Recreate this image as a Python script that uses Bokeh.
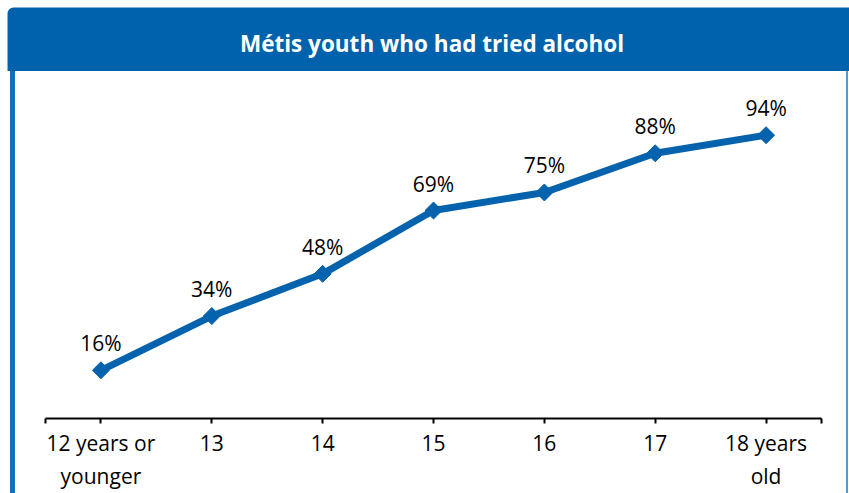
import math
from bokeh.plotting import figure
from bokeh.models import Range1d, FixedTicker, Label, ColumnDataSource, Spacer
from bokeh.layouts import column, row
from bokeh.embed import file_html
from bokeh.resources import INLINE
from bokeh.core.properties import value

# ---- data ----
categories = ["12 years or\nyounger", "13", "14", "15", "16", "17", "18 years\nold"]
percentages = [16, 34, 48, 69, 75, 88, 94]
title_text = "Métis youth who had tried alcohol"

HEADER_BLUE = "#0062AD"
LINE_BLUE = "#0563AE"
BORDER_BLUE = "#1770BC"
RIGHT_BORDER = "#5A96CF"
FONT = "Open Sans"

xs = list(range(len(categories)))
labels = [f"{v}%" for v in percentages]

# ---- header ----
header = figure(width=849, height=71, x_range=Range1d(0, 849), y_range=Range1d(0, 71),
                min_border=0, toolbar_location=None, output_backend="svg",
                x_axis_location=None, y_axis_location=None,
                background_fill_color="white", border_fill_color="white",
                outline_line_color=None)
header.grid.visible = False
header.quad(left=[7], right=[870], bottom=[0], top=[64], fill_color=HEADER_BLUE,
            line_color=None, border_radius=(6, 0, 0, 0))
header.add_layout(Label(x=431.5, y=28, text=title_text, text_color="white",
                        text_font=FONT, text_font_style="bold", text_font_size="22.5px",
                        text_align="center", text_baseline="alphabetic"))

# ---- side borders ----
pad_left = Spacer(width=10, height=422)
left_border = Spacer(width=5, height=422, styles={"background-color": BORDER_BLUE})
right_border = Spacer(width=2, height=422, styles={"background-color": RIGHT_BORDER})

# ---- main chart ----
p = figure(width=831, height=422, x_range=Range1d(-0.5, 6.5), y_range=Range1d(0, 109.5),
           min_border_left=30, min_border_right=25, min_border_top=17, min_border_bottom=75,
           toolbar_location=None, output_backend="svg", y_axis_location=None,
           background_fill_color="white", border_fill_color="white", outline_line_color=None)
p.grid.visible = False

src = ColumnDataSource(dict(x=xs, y=percentages, label=labels))
p.line("x", "y", source=src, line_width=7, line_color=LINE_BLUE)
p.scatter("x", "y", source=src, marker="square", angle=math.pi / 4, size=12,
          fill_color=LINE_BLUE, line_color=LINE_BLUE)
p.text("x", "y", text="label", source=src, y_offset=-27, text_align="center",
       text_baseline="alphabetic", text_font=value(FONT), text_font_size="21px",
       text_color="black")

ax = p.xaxis[0]
ax.ticker = FixedTicker(ticks=xs, minor_ticks=[-0.5, 6.5])
ax.major_label_overrides = {i: c for i, c in zip(xs, categories)}
ax.axis_line_color = "black"
ax.axis_line_width = 2
ax.major_tick_line_color = "black"
ax.major_tick_line_width = 2
ax.major_tick_out = 5
ax.major_tick_in = 0
ax.minor_tick_line_color = "black"
ax.minor_tick_line_width = 2
ax.minor_tick_out = 5
ax.minor_tick_in = 0
ax.major_label_text_font = FONT
ax.major_label_text_font_size = "21px"
ax.major_label_text_color = "black"
ax.major_label_standoff = 5

layout = column(header, row(pad_left, left_border, p, right_border, spacing=0), spacing=0)

open("out.html", "w").write(file_html(layout, INLINE))
